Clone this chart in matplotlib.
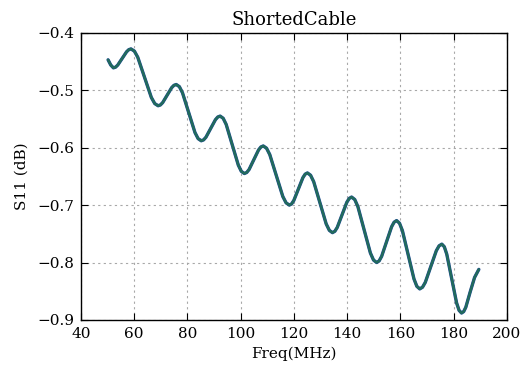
import matplotlib
matplotlib.use("Agg")
import matplotlib.pyplot as plt

freq_mhz = [50.2, 51.2, 52.2, 53.03, 53.85, 55.5, 57.15, 57.98, 58.8, 60.08, 61.35, 63.9,
            66.45, 67.73, 69.0, 69.85, 70.7, 72.4, 74.1, 74.95, 75.8, 76.98, 78.15, 80.5,
            82.85, 84.03, 85.2, 86.09, 86.98, 88.75, 90.53, 91.41, 92.3, 93.44, 94.58,
            96.85, 99.13, 100.26, 101.4, 102.29, 103.18, 104.95, 106.73, 107.61, 108.5,
            109.73, 110.95, 113.4, 115.85, 117.08, 118.3, 119.15, 120.0, 121.7, 123.4,
            124.25, 125.1, 126.28, 127.45, 129.8, 132.15, 133.33, 134.5, 135.4, 136.3,
            138.1, 139.9, 140.8, 141.7, 142.88, 144.05, 146.4, 148.75, 149.93, 151.1,
            152.04, 152.98, 154.85, 156.73, 157.66, 158.6, 159.69, 160.78, 162.95,
            165.13, 166.21, 167.3, 168.34, 169.38, 171.45, 173.53, 174.56, 175.6,
            176.53, 177.45, 179.3, 181.15, 182.08, 183.0, 183.8, 184.6, 186.2, 187.9,
            189.5]
s11_db = [-0.447, -0.456, -0.461, -0.4597, -0.456, -0.4445, -0.433, -0.4293, -0.428,
          -0.4318, -0.4425, -0.4775, -0.5125, -0.5232, -0.527, -0.5256, -0.5216,
          -0.5085, -0.4954, -0.4914, -0.490, -0.4937, -0.5043, -0.539, -0.5737,
          -0.5843, -0.588, -0.5864, -0.5817, -0.5665, -0.5513, -0.5466, -0.545,
          -0.5488, -0.5596, -0.595, -0.6304, -0.6412, -0.645, -0.6432, -0.638,
          -0.621, -0.604, -0.5988, -0.597, -0.6009, -0.612, -0.6485, -0.685,
          -0.6961, -0.700, -0.6979, -0.6918, -0.672, -0.6522, -0.6461, -0.644,
          -0.648, -0.6592, -0.696, -0.7328, -0.744, -0.748, -0.7456, -0.7389,
          -0.717, -0.6951, -0.6884, -0.686, -0.6903, -0.7026, -0.743, -0.7834,
          -0.7957, -0.800, -0.7972, -0.7893, -0.7635, -0.7377, -0.7298, -0.727,
          -0.7315, -0.7444, -0.7865, -0.8286, -0.8415, -0.846, -0.843, -0.8346,
          -0.807, -0.7794, -0.771, -0.768, -0.7726, -0.7855, -0.828, -0.8705,
          -0.8834, -0.888, -0.8855, -0.878, -0.852, -0.826, -0.812]

title = "ShortedCable"
xlabel = "Freq(MHz)"
ylabel = "S11 (dB)"

plt.rcParams['font.family'] = ['DejaVu Serif']
plt.rcParams['mathtext.fontset'] = 'dejavuserif'

fig = plt.figure(figsize=(5.29, 3.69), dpi=100)
ax = fig.add_axes([0.153, 0.133, 0.805, 0.778])
ax.plot(freq_mhz, s11_db, color='#1f4a96', lw=2.4,
        solid_capstyle='round', solid_joinstyle='round')
ax.plot(freq_mhz, s11_db, color='#226b5c', lw=1.8,
        solid_capstyle='round', solid_joinstyle='round')
ax.set_xlim(40, 200)
ax.set_ylim(-0.9, -0.4)
ax.set_xticks(range(40, 201, 20))
ax.set_yticks([-0.9, -0.8, -0.7, -0.6, -0.5, -0.4])
ax.grid(True, color='#a8a8a8', linestyle=(0, (2, 3)), linewidth=0.8)
ax.tick_params(direction='in', top=True, right=True, labelsize=11, length=5, pad=5)
for s in ax.spines.values():
    s.set_linewidth(1.0)
ax.set_title(title, fontsize=13)
ax.set_xlabel(xlabel, fontsize=11)
ax.set_ylabel(ylabel, fontsize=11, labelpad=6)
fig.savefig("out.png", dpi=100)
